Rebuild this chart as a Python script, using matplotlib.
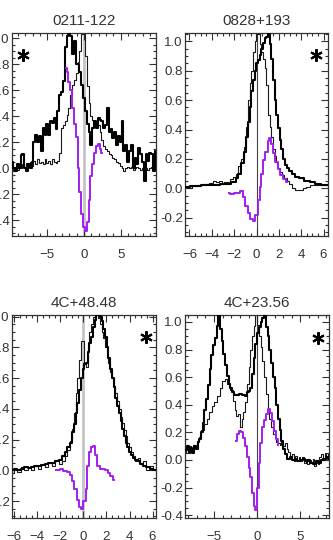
import numpy as np
import matplotlib
matplotlib.use("Agg")
import matplotlib.pyplot as plt
from matplotlib.ticker import MultipleLocator, FormatStrFormatter

plt.rcParams['font.family'] = ['Liberation Sans', 'DejaVu Sans']

# ---------------- data ----------------
titles = ["0211-122", "0828+193", "4C+48.48", "4C+23.56"]

# Panel 1 : 0211-122 (uniform grid -9.75 .. 9.75 step 0.25)
p1_v = list(np.arange(-9.75, 9.76, 0.25))
p1_thick = [0.05, 0.0, -0.02, 0.03, 0.0, 0.10, 0.11, 0.0, -0.02, 0.03, 0.0,
            0.05, 0.20, 0.26, 0.20, 0.25, 0.13, 0.31, 0.26, 0.34, 0.26, 0.36, 0.35, 0.39,
            0.30, 0.44, 0.56, 0.59, 0.67, 0.93, 1.02, 1.04, 1.02, 0.88, 0.98, 0.80, 0.80,
            0.74, 0.64, 0.54, 0.44, 0.34, 0.28, 0.18, 0.31, 0.36, 0.31, 0.39, 0.37, 0.36,
            0.31, 0.33, 0.46, 0.28, 0.30, 0.23, 0.28, 0.18, 0.25, 0.20, 0.36, 0.13, 0.18,
            0.05, 0.13, 0.18, 0.0, 0.08, 0.03, 0.16, 0.11, 0.05, -0.10, 0.11, 0.06, 0.12, 0.11, -0.02, 0.13]
p1_thin = [0.0, -0.02, 0.01, -0.01, 0.02, 0.0, 0.03, 0.01, 0.04, 0.02, 0.05,
           0.02, 0.06, 0.03, 0.07, 0.04, 0.05, 0.03, 0.07, 0.04, 0.06, 0.03, 0.07, 0.05,
           0.04, 0.06, 0.12, 0.31, 0.33, 0.36, 0.41, 0.46, 0.56, 0.64, 0.68, 0.73, 0.82,
           0.90, 1.03, 1.05, 0.86, 0.63, 0.50, 0.40, 0.37, 0.36, 0.34, 0.33, 0.28, 0.22,
           0.17, 0.15, 0.13, 0.11, 0.10, 0.08, 0.07, 0.05, 0.04, 0.02, 0.0, -0.02, 0.0,
           0.01, 0.0, 0.01, -0.01, 0.0, 0.01, 0.0, -0.01, 0.0, 0.01, 0.0, -0.01, 0.0, 0.01, 0.0, 0.0]
p1_pv = [-2.5, -2.25, -2.0, -1.75, -1.5, -1.25, -1.0, -0.75, -0.5, -0.25, 0.0,
         0.25, 0.5, 0.75, 1.0, 1.25, 1.5, 1.75, 2.0, 2.25, 2.5]
p1_purple = [0.77, 0.74, 0.66, 0.60, 0.46, 0.34, 0.24, 0.0, -0.18, -0.35, -0.45,
             -0.48, -0.41, -0.24, -0.06, 0.03, 0.12, 0.17, 0.19, 0.15, 0.12]

# Panel 2 : 0828+193
p2_v = [-6.4, -5.5, -4.5, -3.5, -3.0, -2.5, -2.0, -1.75, -1.5, -1.25, -1.0, -0.85, -0.7,
        -0.55, -0.4, -0.25, -0.1, 0.05, 0.2, 0.35, 0.5, 0.65, 0.8, 0.95, 1.1, 1.25, 1.4,
        1.55, 1.7, 1.85, 2.0, 2.15, 2.3, 2.45, 2.6, 2.8, 3.0, 3.3, 3.6, 4.0, 4.5, 5.0,
        5.5, 6.0, 6.4]
p2_thick = [0.01, 0.015, 0.02, 0.025, 0.03, 0.03, 0.045, 0.07, 0.10, 0.17, 0.25, 0.35, 0.45,
            0.55, 0.66, 0.74, 0.80, 0.85, 0.87, 0.91, 0.95, 0.99, 1.02, 1.03, 1.05, 0.98, 0.88,
            0.74, 0.60, 0.50, 0.41, 0.33, 0.27, 0.20, 0.16, 0.14, 0.12, 0.10, 0.08, 0.07, 0.05, 0.04,
            0.03, 0.025, 0.02]
p2_tv = [-6.4, -6.0, -5.5, -5.0, -4.5, -4.0, -3.75, -3.5, -3.25, -3.0, -2.75, -2.5, -2.25,
         -2.0, -1.75, -1.5, -1.25, -1.0, -0.85, -0.7, -0.55, -0.4, -0.25, -0.1, 0.05, 0.2,
         0.35, 0.5, 0.65, 0.8, 0.95, 1.1, 1.25, 1.4, 1.55, 1.7, 1.85, 2.0, 2.2, 2.4, 2.6,
         2.8, 3.0, 3.3, 3.6, 4.0, 4.3, 4.6, 5.0, 5.5, 6.0, 6.4]
p2_thin = [0.01, 0.0, 0.015, 0.02, 0.03, 0.035, 0.05, 0.04, 0.05, 0.03, 0.04, 0.04, 0.06,
           0.08, 0.10, 0.15, 0.20, 0.28, 0.42, 0.60, 0.72, 0.80, 0.93, 1.00, 1.05, 1.05,
           0.98, 0.93, 0.88, 0.82, 0.70, 0.50, 0.42, 0.35, 0.27, 0.22, 0.18, 0.14, 0.11, 0.09, 0.07,
           0.05, 0.03, 0.0, -0.01, -0.01, 0.0, 0.01, 0.02, 0.02, 0.02, 0.02]
p2_pv = [-2.5, -2.2, -1.9, -1.6, -1.3, -1.1, -0.9, -0.65, -0.45, -0.2, 0.0, 0.2, 0.35, 0.5,
         0.7, 0.9, 1.07, 1.25, 1.42, 1.6, 1.78, 2.0, 2.25, 2.5, 2.75]
p2_purple = [-0.03, -0.04, -0.035, -0.03, -0.02, -0.06, -0.12, -0.17, -0.21, -0.22, -0.18,
             -0.08, 0.01, 0.10, 0.19, 0.25, 0.32, 0.34, 0.30, 0.24, 0.18, 0.13, 0.09, 0.06, 0.04]

# Panel 3 : 4C+48.48
p3_v = [-6.2, -5.9, -5.6, -5.3, -5.0, -4.7, -4.4, -4.1, -3.8, -3.5, -3.2, -2.9, -2.6, -2.3,
        -2.0, -1.75, -1.5, -1.3, -1.1, -0.9, -0.75, -0.6, -0.45, -0.3, -0.15, 0.0, 0.15,
        0.3, 0.45, 0.6, 0.75, 0.9, 1.05, 1.2, 1.35, 1.5, 1.65, 1.8, 1.95, 2.1, 2.25, 2.4,
        2.55, 2.7, 2.85, 3.0, 3.15, 3.3, 3.45, 3.6, 3.75, 3.9, 4.05, 4.2, 4.4, 4.6, 4.8,
        5.0, 5.3, 5.6, 5.9, 6.2]
p3_thick = [0.0, 0.01, 0.0, 0.01, 0.02, 0.015, 0.02, 0.025, 0.03, 0.035, 0.04, 0.045, 0.05, 0.06,
            0.07, 0.09, 0.12, 0.15, 0.18, 0.25, 0.30, 0.37, 0.44, 0.52, 0.60, 0.66, 0.69,
            0.70, 0.77, 0.83, 0.87, 0.93, 0.98, 1.01, 1.02, 1.00, 0.97, 0.92, 0.87, 0.80, 0.73, 0.66,
            0.60, 0.54, 0.47, 0.42, 0.37, 0.32, 0.27, 0.22, 0.18, 0.15, 0.12, 0.10, 0.08, 0.07, 0.06,
            0.04, 0.03, 0.02, 0.01, 0.0]
p3_thin = [-0.02, 0.01, -0.01, 0.02, 0.0, 0.02, 0.0, 0.03, 0.01, 0.04, 0.02, 0.05, 0.03, 0.07,
           0.04, 0.06, 0.09, 0.13, 0.19, 0.27, 0.37, 0.50, 0.60, 0.72, 0.84, 0.84, 0.70,
           0.67, 0.80, 0.90, 0.95, 1.00, 1.02, 1.02, 0.99, 0.95, 0.90, 0.86, 0.80, 0.76, 0.70, 0.64,
           0.60, 0.55, 0.50, 0.45, 0.40, 0.35, 0.31, 0.26, 0.22, 0.18, 0.15, 0.12, 0.09, 0.06, 0.08,
           0.04, 0.06, 0.0, 0.03, 0.01]
p3_pv = [-2.4, -2.15, -1.9, -1.6, -1.3, -1.08, -0.88, -0.67, -0.5, -0.3, -0.09, 0.1, 0.27,
         0.4, 0.58, 0.76, 0.93, 1.1, 1.3, 1.52, 1.75, 2.0, 2.2, 2.45, 2.65]
p3_purple = [0.0, 0.0, 0.01, -0.005, -0.01, -0.03, -0.07, -0.12, -0.19, -0.24, -0.25, -0.20,
             -0.12, 0.03, 0.12, 0.15, 0.16, 0.10, 0.03, 0.01, 0.01, 0.0, -0.02, -0.04, -0.06]

# Panel 4 : 4C+23.56
p4_v = [-8.3, -8.0, -7.8, -7.6, -7.4, -7.2, -7.0, -6.8, -6.6, -6.4, -6.2, -6.0, -5.8, -5.6,
        -5.4, -5.2, -5.0, -4.8, -4.6, -4.4, -4.2, -4.0, -3.8, -3.6, -3.4, -3.2, -3.0, -2.8,
        -2.5, -2.2, -1.9, -1.6, -1.3, -1.1, -0.9, -0.7, -0.5, -0.3, -0.1, 0.1, 0.3, 0.5,
        0.7, 0.9, 1.1, 1.3, 1.5, 1.7, 1.9, 2.1, 2.3, 2.5, 2.7, 2.9, 3.1, 3.3, 3.6, 3.9,
        4.2, 4.5, 4.8, 5.1, 5.4, 5.7, 6.0, 6.3, 6.6, 6.9, 7.2, 7.5, 7.8, 8.1, 8.3]
p4_thick = [0.07, 0.10, 0.06, 0.09, 0.05, 0.10, 0.08, 0.13, 0.15, 0.20, 0.27, 0.36, 0.44, 0.54,
            0.66, 0.76, 0.83, 0.88, 0.97, 1.04, 0.95, 0.86, 0.77, 0.69, 0.61, 0.55, 0.52, 0.49,
            0.47, 0.47, 0.48, 0.47, 0.46, 0.49, 0.50, 0.52, 0.62, 0.74, 0.84, 0.92, 0.96, 1.00,
            1.03, 1.05, 0.96, 0.90, 0.80, 0.70, 0.60, 0.52, 0.40, 0.30, 0.22, 0.14, 0.08, 0.04, 0.01, 0.02,
            0.0, 0.01, -0.01, 0.0, 0.01, -0.01, 0.0, -0.02, -0.03, -0.01, -0.02, 0.0, 0.01, 0.02, 0.01]
p4_tv = [-8.3, -8.1, -7.9, -7.7, -7.5, -7.3, -7.1, -6.9, -6.6, -6.3, -6.0, -5.7, -5.4, -5.1,
         -4.8, -4.5, -4.2, -3.9, -3.6, -3.3, -3.0, -2.7, -2.5, -2.3, -2.1, -1.9, -1.7, -1.5,
         -1.3, -1.1, -0.9, -0.7, -0.5, -0.3, -0.1, 0.1, 0.3, 0.5, 0.7, 0.9, 1.1, 1.3, 1.5,
         1.7, 1.9, 2.1, 2.3, 2.5, 2.7, 2.9, 3.1, 3.3, 3.5, 3.7, 3.9, 4.1, 4.3, 4.5, 4.7,
         4.9, 5.1, 5.3, 5.5, 5.7, 5.9, 6.1, 6.3, 6.5, 6.7, 6.9, 7.1, 7.3, 7.5, 7.7, 7.9, 8.1, 8.3]
p4_thin = [0.05, 0.09, 0.05, 0.10, 0.06, 0.11, 0.09, 0.14, 0.17, 0.22, 0.26, 0.30, 0.35, 0.39,
           0.42, 0.46, 0.52, 0.57, 0.59, 0.55, 0.51, 0.43, 0.36, 0.32, 0.33, 0.24, 0.30, 0.35,
           0.42, 0.55, 0.67, 0.80, 0.90, 0.97, 1.05, 0.98, 0.90, 0.82, 0.72, 0.60, 0.48, 0.38, 0.30,
           0.24, 0.19, 0.16, 0.13, 0.12, 0.11, 0.13, 0.10, 0.12, 0.08, 0.06, 0.02, 0.04, -0.01, 0.03, 0.0,
           0.02, -0.01, 0.02, -0.02, 0.01, -0.03, 0.0, -0.02, 0.01, -0.04, 0.0, -0.03, 0.02, 0.04, 0.0, 0.05, 0.02, 0.04]
p4_pv = [-2.44, -2.25, -2.0, -1.78, -1.55, -1.3, -1.08, -0.9, -0.7, -0.5, -0.3, -0.12, 0.08,
         0.27, 0.47, 0.66, 0.9, 1.12, 1.36, 1.6, 1.82, 2.05, 2.3, 2.45]
p4_purple = [0.14, 0.19, 0.21, 0.20, 0.16, 0.10, 0.02, -0.06, -0.12, -0.24, -0.33, -0.36, -0.20,
             -0.02, 0.12, 0.24, 0.29, 0.33, 0.37, 0.34, 0.28, 0.21, 0.15, 0.11]

# ---------------- layout ----------------
W, H = 333, 540
fig = plt.figure(figsize=(W / 100, H / 100), dpi=100)

def rect(l, r, t, b):
    return [l / W, 1 - b / H, (r - l) / W, (b - t) / H]

panels = [
    dict(rect=rect(12, 156, 33, 236), xlim=(-9.8, 9.8), ylim=(-0.52, 1.04), xmaj=5, xmin=1,
         thick=(p1_v, p1_thick), thin=(p1_v, p1_thin), purple=(p1_pv, p1_purple),
         zcol='#c4c4c4', zlw=2.0, star=(0.075, 0.89)),
    dict(rect=rect(185, 328, 33, 236), xlim=(-6.4, 6.4), ylim=(-0.325, 1.057), xmaj=2, xmin=0.5,
         thick=(p2_v, p2_thick), thin=(p2_tv, p2_thin), purple=(p2_pv, p2_purple),
         zcol='#444444', zlw=0.8, star=(0.914, 0.89)),
    dict(rect=rect(12, 156, 315, 518), xlim=(-6.2, 6.3), ylim=(-0.31, 1.01), xmaj=2, xmin=0.5,
         thick=(p3_v, p3_thick), thin=(p3_v, p3_thin), purple=(p3_pv, p3_purple),
         zcol='#c4c4c4', zlw=2.0, star=(0.928, 0.893)),
    dict(rect=rect(185, 329, 315, 518), xlim=(-8.35, 8.3), ylim=(-0.42, 1.05), xmaj=5, xmin=1,
         thick=(p4_v, p4_thick), thin=(p4_tv, p4_thin), purple=(p4_pv, p4_purple),
         zcol='#444444', zlw=0.8, star=(0.924, 0.885)),
]

txtcol = '#333333'
for title, p in zip(titles, panels):
    ax = fig.add_axes(p['rect'])
    ax.axvline(0, color=p['zcol'], lw=p['zlw'], zorder=1)
    ax.plot(*p['thin'], drawstyle='steps-mid', color='#1a1a1a', lw=0.8, zorder=2)
    ax.plot(*p['thick'], drawstyle='steps-mid', color='black', lw=1.5, zorder=3)
    ax.plot(*p['purple'], drawstyle='steps-mid', color='#a21ef0', lw=1.4, zorder=4)
    ax.plot([p['star'][0]], [p['star'][1]], transform=ax.transAxes, marker=(6, 2, 0),
            ms=9, mew=1.5, color='black', ls='none', zorder=5)
    ax.set_xlim(*p['xlim'])
    ax.set_ylim(*p['ylim'])
    ax.xaxis.set_major_locator(MultipleLocator(p['xmaj']))
    ax.xaxis.set_minor_locator(MultipleLocator(p['xmin']))
    ax.yaxis.set_major_locator(MultipleLocator(0.2))
    ax.yaxis.set_minor_locator(MultipleLocator(0.05))
    ax.yaxis.set_major_formatter(FormatStrFormatter('%.1f'))
    ax.tick_params(which='both', direction='in', top=True, right=True, color='#333333',
                   width=0.8, labelcolor=txtcol, labelsize=9.5)
    ax.tick_params(which='major', length=5)
    ax.tick_params(which='minor', length=2.5)
    ax.tick_params(axis='x', which='major', pad=9)
    ax.tick_params(axis='y', which='major', pad=1.5)
    for s in ax.spines.values():
        s.set_linewidth(0.9)
        s.set_color('#333333')
    ax.set_title(title, fontsize=11, color=txtcol, pad=6)

fig.savefig('out.png', dpi=100)
